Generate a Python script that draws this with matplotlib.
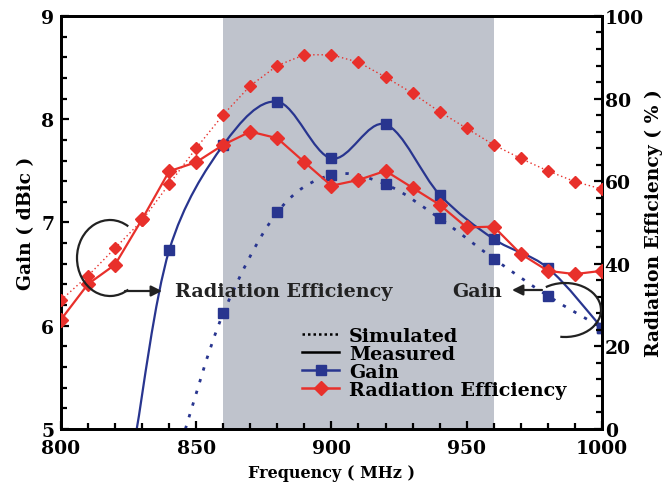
import numpy as np
import matplotlib
matplotlib.use('Agg')
import matplotlib.pyplot as plt
from matplotlib.path import Path
from matplotlib.patches import PathPatch, Arc
from matplotlib.lines import Line2D
from matplotlib.ticker import MultipleLocator

plt.rcParams['font.family'] = ['DejaVu Serif']
plt.rcParams['font.weight'] = 'bold'

# gain data (dBic); first point is where the curve leaves the bottom of the axis
gain_meas_freq = [828, 840, 860, 880, 900, 920, 940, 960, 980, 1000]
gain_meas = [5.0, 6.73, 7.75, 8.17, 7.62, 7.95, 7.27, 6.84, 6.56, 5.98]
gain_sim_freq = [846, 860, 880, 900, 920, 940, 960, 980, 1000]
gain_sim = [5.0, 6.12, 7.10, 7.46, 7.37, 7.04, 6.65, 6.29, 5.98]

# radiation efficiency (%)
eff_freq = [800, 810, 820, 830, 840, 850, 860, 870, 880, 890, 900,
            910, 920, 930, 940, 950, 960, 970, 980, 990, 1000]
eff_meas = [26.5, 35.1, 39.8, 50.8, 62.4, 64.6, 68.8, 72.0, 70.4, 64.6, 58.9,
            60.3, 62.5, 58.4, 54.3, 48.8, 49.0, 42.4, 38.3, 37.5, 38.3]
eff_sim = [31.2, 37.1, 43.8, 50.5, 59.3, 68.0, 76.1, 83.1, 88.0, 90.6, 90.6,
           88.8, 85.2, 81.3, 76.8, 72.8, 68.8, 65.5, 62.5, 59.9, 58.1]

band = (860, 960)

blue = '#28358f'
red = '#e8302b'
dark = '#222222'


def smooth_path(x, y):
    pts = np.column_stack([x, y]).astype(float)
    verts = [pts[0]]
    codes = [Path.MOVETO]
    n = len(pts)
    for i in range(n - 1):
        p0 = pts[i - 1] if i > 0 else pts[i]
        p1 = pts[i]
        p2 = pts[i + 1]
        p3 = pts[i + 2] if i + 2 < n else pts[i + 1]
        verts += [p1 + (p2 - p0) / 6, p2 - (p3 - p1) / 6, p2]
        codes += [Path.CURVE4] * 3
    return Path(verts, codes)


fig = plt.figure(figsize=(6.68, 4.85), dpi=100)
ax = fig.add_axes([0.0913, 0.1134, 0.8097, 0.8516])
ax2 = ax.twinx()

ax.axvspan(band[0], band[1], color='#bfc3cc', lw=0, zorder=0)

# gain curves (smooth)
ax.add_patch(PathPatch(smooth_path(gain_meas_freq, gain_meas), fill=False,
                       ec=blue, lw=1.6, zorder=3))
ax.add_patch(PathPatch(smooth_path(gain_sim_freq, gain_sim), fill=False,
                       ec=blue, lw=2.0, ls=(0, (1.2, 3.2)), zorder=3))
ax.plot(gain_meas_freq[1:], gain_meas[1:], ls='none', marker='s', ms=7.5,
        color=blue, zorder=4)
ax.plot(gain_sim_freq[1:], gain_sim[1:], ls='none', marker='s', ms=7.5,
        color=blue, zorder=4)

# efficiency curves
ax2.plot(eff_freq, eff_sim, color=red, lw=1.0, ls=(0, (1, 2)),
         marker='D', ms=6.5, zorder=3)
ax2.plot(eff_freq, eff_meas, color=red, lw=1.6, marker='D', ms=7, zorder=3)

ax.set_xlim(800, 1000)
ax.set_ylim(5, 9)
ax2.set_ylim(0, 100)

ax.xaxis.set_major_locator(MultipleLocator(50))
ax.xaxis.set_minor_locator(MultipleLocator(10))
ax.yaxis.set_major_locator(MultipleLocator(1))
ax.yaxis.set_minor_locator(MultipleLocator(0.2))
ax2.yaxis.set_major_locator(MultipleLocator(20))
ax2.yaxis.set_minor_locator(MultipleLocator(4))

for a in (ax, ax2):
    for s in a.spines.values():
        s.set_linewidth(2)
    a.tick_params(which='both', direction='in', width=1.6, labelsize=13.5)
    a.tick_params(which='major', length=6)
    a.tick_params(which='minor', length=4)
ax.tick_params(axis='x', pad=7)
ax.tick_params(axis='y', pad=5)
ax2.tick_params(axis='y', pad=2)

ax.set_xlabel('Frequency ( MHz )', fontsize=11.5, fontweight='bold', labelpad=5)
ax.set_ylabel('Gain ( dBic )', fontsize=13.5, fontweight='bold', labelpad=4)
ax2.set_ylabel('Radiation Efficiency ( % )', fontsize=13.5, fontweight='bold',
               labelpad=1, rotation=90)

# annotations
ax.text(842.1, 6.34, 'Radiation Efficiency', fontsize=13.8, fontweight='bold',
        color=dark, va='center', ha='left', zorder=5)
ax.text(944.5, 6.34, 'Gain', fontsize=13.8, fontweight='bold',
        color=dark, va='center', ha='left', zorder=5)

inch = fig.dpi_scale_trans
fig.patches.append(Arc((1.10, 2.26), 0.66, 0.76, theta1=60, theta2=300,
                       transform=inch, color=dark, lw=1.6))
fig.patches.append(Arc((5.65, 1.74), 0.72, 0.54, theta1=-100, theta2=130,
                       transform=inch, color=dark, lw=1.6))
arrow = dict(arrowstyle='-|>', lw=1.6, color=dark, mutation_scale=16,
             shrinkA=0, shrinkB=0)
ax.annotate('', xy=(1.62, 1.93), xytext=(1.25, 1.93),
            xycoords=inch, textcoords=inch, arrowprops=arrow)
ax.annotate('', xy=(5.12, 1.94), xytext=(5.42, 1.94),
            xycoords=inch, textcoords=inch, arrowprops=arrow)

handles = [
    Line2D([], [], color='black', lw=1.8, ls=(0, (1, 1.2))),
    Line2D([], [], color='black', lw=1.8),
    Line2D([], [], color=blue, lw=1.8, marker='s', ms=7),
    Line2D([], [], color=red, lw=1.8, marker='D', ms=7),
]
labels = ['Simulated', 'Measured', 'Gain', 'Radiation Efficiency']
ax2.legend(handles, labels, loc='upper left', bbox_to_anchor=(302 / 668, 1 - 328 / 485),
           bbox_transform=fig.transFigure, frameon=False,
           handlelength=1.95, handletextpad=0.5, labelspacing=0.0,
           borderpad=0, borderaxespad=0, prop={'weight': 'bold', 'size': 13.8})

fig.savefig('out.png', dpi=100)
